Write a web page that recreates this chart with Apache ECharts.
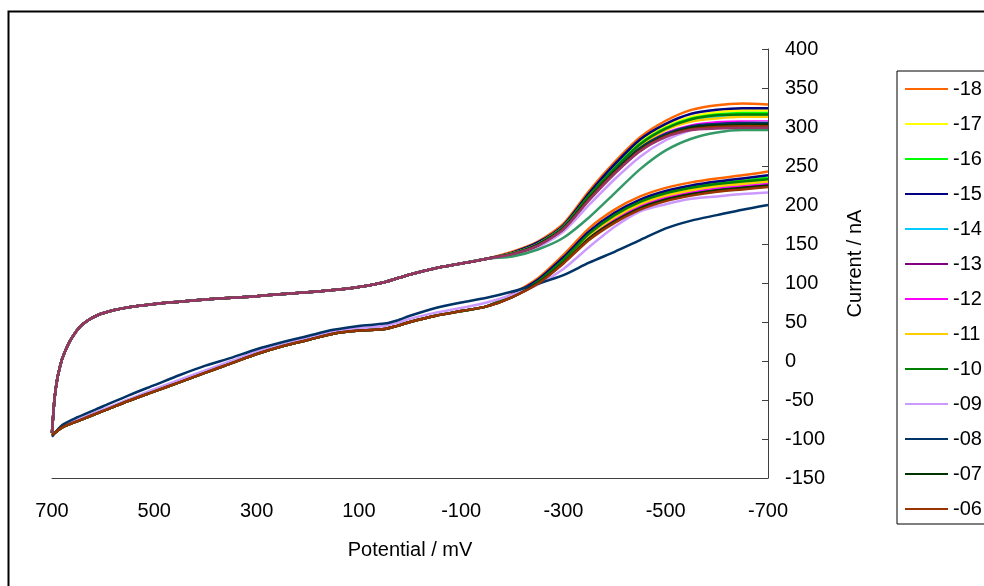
<!DOCTYPE html>
<html>
<head>
<meta charset="utf-8">
<script src="https://cdn.jsdelivr.net/npm/echarts@6/dist/echarts.min.js"></script>
<style>
  html, body { margin: 0; padding: 0; background: #fff; }
  #chart { width: 984px; height: 586px; }
</style>
</head>
<body>
<div id="chart"></div>
<script>
// Cyclic voltammograms: forward sweep 700 -> -700 mV, return sweep -700 -> 700 mV.
const seriesNames = ['-18', '-17', '-16', '-15', '-14', '-13', '-12', '-11', '-10', '-09', '-08', '-07', '-06', '-05', '-04'];
const legendNames = ['-18', '-17', '-16', '-15', '-14', '-13', '-12', '-11', '-10', '-09', '-08', '-07', '-06'];
const seriesColors = ['#FF6600', '#FFFF00', '#00FF00', '#000080', '#00CCFF', '#800080', '#FF00FF', '#FFCC00', '#008000', '#CC99FF', '#003366', '#003300', '#993300', '#339966', '#993366'];

// Forward sweep, part shared by all runs (mV, nA)
const upperXLeft = [700, 695, 690, 685, 680, 670, 660, 645, 630, 610, 580, 550, 500, 450, 400, 350, 300, 250, 200, 150, 100, 50, 0, -50, -100, -150];
const upperYLeft = [-92, -48, -24, -9, 3, 19, 31, 44, 52, 59, 65, 69, 73, 76, 79, 81, 83, 86, 88, 91, 95, 101, 111, 119, 125, 131];

// Forward sweep, cathodic wave for each run
const upperXRight = [-200, -250, -300, -350, -400, -450, -500, -550, -600, -650, -700];
const upperTails = [
  [140, 153, 176, 218, 255, 287, 308, 322, 328, 330, 329],
  [138, 151, 173, 213, 250, 281, 301, 313, 319, 321, 321],
  [138, 150, 172, 212, 248, 279, 299, 311, 316, 318, 318],
  [139, 152, 174, 215, 252, 284, 304, 317, 322, 324, 324],
  [138, 150, 172, 211, 247, 277, 297, 309, 313, 315, 315],
  [137, 149, 170, 208, 243, 272, 290, 300, 303, 304, 304],
  [137, 149, 171, 209, 244, 274, 292, 302, 306, 307, 307],
  [138, 150, 172, 211, 246, 276, 296, 307, 311, 313, 313],
  [138, 150, 172, 212, 247, 278, 298, 310, 315, 316, 316],
  [136, 146, 166, 200, 233, 262, 283, 296, 302, 305, 306],
  [137, 149, 170, 208, 243, 273, 291, 301, 304, 305, 305],
  [137, 149, 170, 208, 242, 271, 289, 299, 302, 303, 303],
  [137, 148, 169, 207, 241, 270, 288, 297, 300, 301, 301],
  [134, 143, 158, 184, 215, 246, 270, 285, 293, 296, 296],
  [137, 148, 169, 206, 240, 269, 287, 296, 298, 299, 299]
];

// Return sweep, start of each run (-700 -> -200 mV); null = forward sweep only
const lowerXRight = [-700, -650, -600, -550, -500, -450, -400, -350, -300, -250, -200];
const lowerHeads = [
  [243, 238, 234, 229, 222, 211, 194, 170, 136, 106, 86],
  [232, 229, 226, 221, 214, 203, 186, 162, 130, 102, 84],
  [235, 231, 228, 223, 216, 205, 188, 164, 131, 103, 84],
  [238, 234, 230, 225, 218, 207, 190, 166, 133, 104, 85],
  [229, 226, 223, 218, 211, 200, 183, 160, 128, 101, 83],
  [226, 223, 220, 215, 208, 197, 180, 157, 126, 100, 82],
  [227, 224, 221, 216, 209, 198, 181, 158, 127, 100, 83],
  [230, 227, 224, 219, 212, 201, 184, 161, 129, 101, 83],
  [233, 230, 227, 222, 215, 204, 187, 163, 130, 102, 84],
  [216, 214, 211, 208, 201, 192, 172, 146, 118, 98, 85],
  [200, 194, 187, 180, 170, 155, 140, 126, 110, 99, 89],
  [225, 222, 219, 214, 207, 196, 179, 157, 126, 100, 82],
  [223, 220, 217, 212, 205, 194, 177, 155, 125, 99, 82],
  null,
  null
];

// Return sweep, -150 -> 700 mV
const lowerXLeft = [-150, -100, -50, 0, 25, 50, 100, 150, 200, 250, 300, 350, 400, 450, 500, 550, 600, 650, 680, 700];
const lowerYLeft = [70, 64, 58, 50, 45, 41, 39, 35, 27, 19, 9, -3, -15, -27, -39, -51, -64, -77, -85, -95];
const lowerYLeft09 = [75, 68, 62, 54, 49, 45, 42, 38, 30, 21, 12, 0, -12, -24, -36, -49, -62, -75, -84, -95];
const lowerYLeft08 = [81, 75, 68, 58, 52, 48, 45, 40, 32, 24, 15, 4, -6, -18, -31, -44, -58, -72, -82, -97];
const lowerLeftByName = { '-09': lowerYLeft09, '-08': lowerYLeft08 };

const xTicks = { min: -700, max: 700, step: 200 };
const yTicks = { min: -150, max: 400, step: 50 };

function pairs(xs, ys) {
  return xs.map((x, k) => [x, ys[k]]);
}

const series = seriesNames.map((name, i) => {
  let pts = pairs(upperXLeft, upperYLeft).concat(pairs(upperXRight, upperTails[i]));
  if (lowerHeads[i]) {
    const left = lowerLeftByName[name] || lowerYLeft;
    // break between the sweeps so no vertical segment is drawn at the turning point
    pts = pts.concat([[xTicks.min, null]], pairs(lowerXRight, lowerHeads[i]), pairs(lowerXLeft, left));
  }
  return {
    name: name,
    type: 'line',
    data: pts,
    showSymbol: false,
    symbol: 'none',
    smooth: 0.25,
    connectNulls: false,
    color: seriesColors[i],
    lineStyle: { color: seriesColors[i], width: 2.5 },
    emphasis: { disabled: true },
    z: 2 + i
  };
});

const FONT = 'Liberation Sans, Arial, sans-serif';
const chart = echarts.init(document.getElementById('chart'), null, { renderer: 'canvas' });
chart.setOption({
  animation: false,
  backgroundColor: '#ffffff',
  textStyle: { fontFamily: FONT },
  graphic: [{
    type: 'rect',
    shape: { x: 8.5, y: 11.5, width: 1200, height: 800 },
    style: { fill: 'none', stroke: '#000', lineWidth: 2 },
    silent: true,
    z: 0
  }],
  grid: { left: 52, right: 216, top: 49, bottom: 108, containLabel: false },
  legend: {
    data: legendNames.map(n => ({ name: n, icon: 'rect' })),
    orient: 'vertical',
    left: 897,
    top: 71,
    padding: [8, 12, 5, 8],
    borderColor: '#000',
    borderWidth: 1,
    itemWidth: 43,
    itemHeight: 2,
    itemGap: 15,
    textStyle: { fontSize: 20, lineHeight: 20, color: '#000', fontFamily: FONT },
    selectedMode: false
  },
  xAxis: {
    type: 'value',
    inverse: true,
    min: xTicks.min,
    max: xTicks.max,
    interval: xTicks.step,
    name: 'Potential / mV',
    nameLocation: 'middle',
    nameGap: 62,
    nameTextStyle: { fontSize: 20, color: '#000', fontFamily: FONT },
    axisLine: { show: true, onZero: false, lineStyle: { color: '#404040', width: 1 } },
    axisTick: { show: false },
    axisLabel: { fontSize: 20, color: '#000', margin: 23, fontFamily: FONT },
    splitLine: { show: false }
  },
  yAxis: {
    type: 'value',
    position: 'right',
    min: yTicks.min,
    max: yTicks.max,
    interval: yTicks.step,
    name: 'Current / nA',
    nameLocation: 'middle',
    nameRotate: 90,
    nameGap: 77,
    nameTextStyle: { fontSize: 20, color: '#000', fontFamily: FONT },
    axisLine: { show: true, onZero: false, lineStyle: { color: '#404040', width: 1 } },
    axisTick: { show: true, inside: true, length: 6, lineStyle: { color: '#404040' } },
    axisLabel: { fontSize: 20, color: '#000', margin: 17, fontFamily: FONT },
    splitLine: { show: false }
  },
  series: series
});
</script>
</body>
</html>
